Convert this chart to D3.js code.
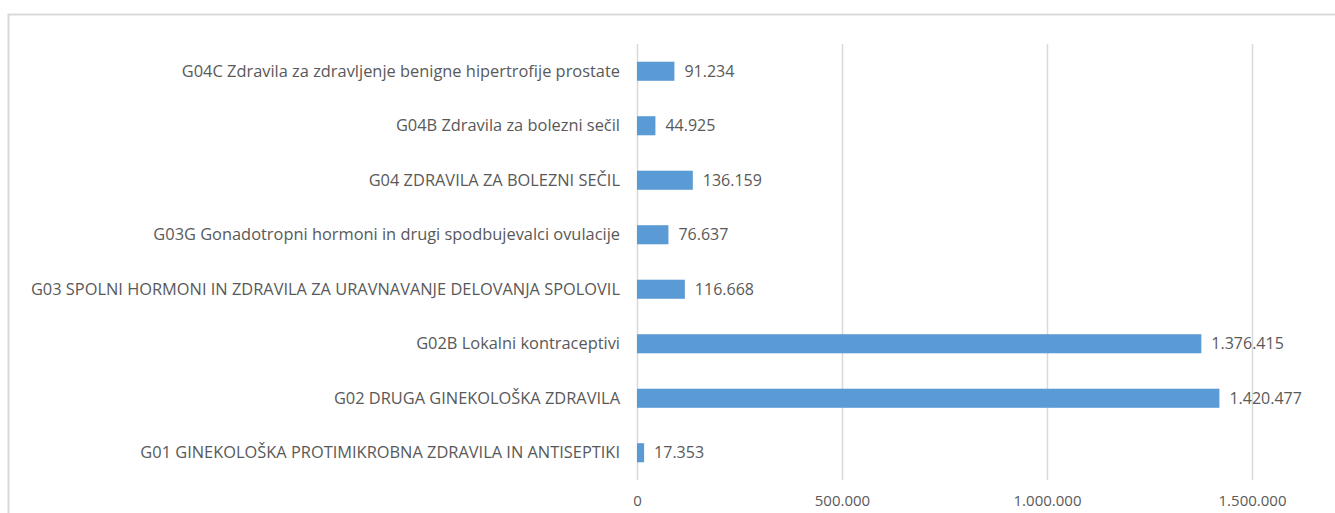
<!DOCTYPE html>
<html>
<head>
<meta charset="utf-8">
<script src="https://cdn.jsdelivr.net/npm/d3@7"></script>
<style>
  body { margin: 0; background: #fff; }
  text { font-family: "Open Sans", sans-serif; fill: #595959; }
</style>
</head>
<body>
<svg id="chart" width="1335" height="513"></svg>
<script>
var categories = [
  "G04C Zdravila za zdravljenje benigne hipertrofije prostate",
  "G04B Zdravila za bolezni sečil",
  "G04 ZDRAVILA ZA BOLEZNI SEČIL",
  "G03G Gonadotropni hormoni in drugi spodbujevalci ovulacije",
  "G03 SPOLNI HORMONI IN ZDRAVILA ZA URAVNAVANJE DELOVANJA SPOLOVIL",
  "G02B Lokalni kontraceptivi",
  "G02 DRUGA GINEKOLOŠKA ZDRAVILA",
  "G01 GINEKOLOŠKA PROTIMIKROBNA ZDRAVILA IN ANTISEPTIKI"
];
var values = [91234, 44925, 136159, 76637, 116668, 1376415, 1420477, 17353];
var xTicks = [0, 500000, 1000000, 1500000];

var svg = d3.select('#chart');
var margin_left = 637, plot_right = 1252, plot_top = 44, plot_bottom = 480;

var locale = d3.formatLocale({decimal: ",", thousands: ".", grouping: [3], currency: ["", ""]});
var fmt = locale.format(",d");

// chart frame, cut at right and bottom like the original
svg.append('rect')
  .attr('x', 8.5).attr('y', 14.5)
  .attr('width', 1400).attr('height', 600)
  .attr('fill', 'none').attr('stroke', '#d9d9d9').attr('stroke-width', 2);

var x = d3.scaleLinear().domain([0, 1500000]).range([margin_left, plot_right]);
var y = d3.scaleBand().domain(categories).range([plot_top, plot_bottom]).paddingInner(0.65).paddingOuter(0.325);

// grid
svg.append('g').selectAll('line').data(xTicks).enter().append('line')
  .attr('x1', function(d) { return x(d) + 0.5; })
  .attr('x2', function(d) { return x(d) + 0.5; })
  .attr('y1', plot_top).attr('y2', plot_bottom)
  .attr('stroke', '#d9d9d9').attr('stroke-width', 1.5);

// x axis labels
var xAxis = d3.axisBottom(x).tickValues(xTicks).tickFormat(fmt).tickSize(0).tickPadding(15);
svg.append('g').attr('transform', 'translate(0,' + plot_bottom + ')').call(xAxis)
  .call(function(g) {
    g.select('.domain').remove();
    g.selectAll('text').attr('font-size', 15).attr('font-family', null).attr('fill', '#595959');
  });

// category labels
var yAxis = d3.axisLeft(y).tickSize(0).tickPadding(17);
svg.append('g').attr('transform', 'translate(' + margin_left + ',0)').call(yAxis)
  .call(function(g) {
    g.select('.domain').remove();
    g.selectAll('text').attr('font-size', 16.4).attr('font-family', null).attr('fill', '#595959');
  });

// bars
svg.append('g').selectAll('rect').data(values).enter().append('rect')
  .attr('x', x(0))
  .attr('y', function(d, i) { return y(categories[i]); })
  .attr('width', function(d) { return x(d) - x(0); })
  .attr('height', y.bandwidth())
  .attr('fill', '#5b9bd5');

// value labels
svg.append('g').selectAll('text').data(values).enter().append('text')
  .attr('x', function(d) { return x(d) + 10; })
  .attr('y', function(d, i) { return y(categories[i]) + y.bandwidth() / 2; })
  .attr('dy', '0.35em')
  .attr('font-size', 16)
  .text(function(d) { return fmt(d); });
</script>
</body>
</html>
